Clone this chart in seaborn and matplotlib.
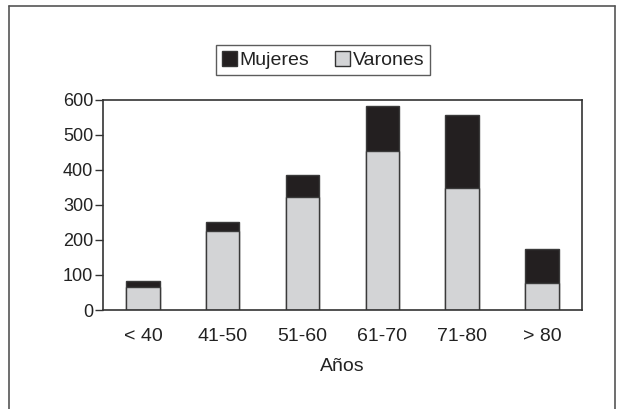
import matplotlib
matplotlib.use("Agg")
import matplotlib.pyplot as plt
from matplotlib.lines import Line2D
from matplotlib.patches import Patch
import seaborn as sns

# data
grupos = ["< 40", "41-50", "51-60", "61-70", "71-80", "> 80"]
varones = [65, 225, 323, 453, 348, 78]
mujeres = [17, 27, 62, 129, 207, 97]
totales = [v + m for v, m in zip(varones, mujeres)]

sns.set_theme(style="white")
plt.rcParams["font.family"] = ["Liberation Sans Narrow", "Liberation Sans", "DejaVu Sans"]

negro = "#231f20"
gris = "#d3d4d6"

fig = plt.figure(figsize=(6.26, 4.09), dpi=100)
ax = fig.add_axes([0.1645, 0.242, 0.7652, 0.5147])

# stacked bars: total (black) behind, varones (gray) in front
sns.barplot(x=grupos, y=totales, color=negro, edgecolor="#3a3a3a", linewidth=1.0,
            width=0.42, ax=ax, saturation=1)
sns.barplot(x=grupos, y=varones, color=gris, edgecolor="#3a3a3a", linewidth=1.0,
            width=0.42, ax=ax, saturation=1)

ax.set_ylim(0, 600)
ax.set_yticks(range(0, 601, 100))
ax.set_xlim(-0.5, 5.5)
ax.set_xlabel("Años", fontsize=14, labelpad=9, color="#222222")
ax.set_ylabel("")
ax.tick_params(axis="y", which="both", left=True, length=6, width=1, color="#333333",
               labelsize=13, pad=1, labelcolor="#222222")
ax.tick_params(axis="x", bottom=False, length=0, labelsize=14, pad=13, labelcolor="#222222")
for s in ax.spines.values():
    s.set_visible(True)
    s.set_color("#333333")
    s.set_linewidth(1.2)

handles = [Patch(facecolor=negro, edgecolor="#333333", label="Mujeres"),
           Patch(facecolor=gris, edgecolor="#333333", label="Varones")]
leg = fig.legend(handles=handles, loc="center", bbox_to_anchor=(0.516, 0.8525), ncol=2,
                 fontsize=14, frameon=True, fancybox=False, handlelength=0.77,
                 handleheight=0.77, handletextpad=0.15, columnspacing=1.3,
                 borderpad=0.3, labelcolor="#222222")
leg.get_frame().set_edgecolor("#333333")
leg.get_frame().set_linewidth(1.0)

# outer frame (open at the bottom)
x0, x1, ytop = 9 / 626, 615 / 626, 1 - 6 / 409
for xs, ys in [([x0, x0], [0, ytop]), ([x0, x1], [ytop, ytop]), ([x1, x1], [ytop, 0])]:
    fig.add_artist(Line2D(xs, ys, transform=fig.transFigure, color="#555555", linewidth=1.2))

fig.savefig("out.png", dpi=100)
